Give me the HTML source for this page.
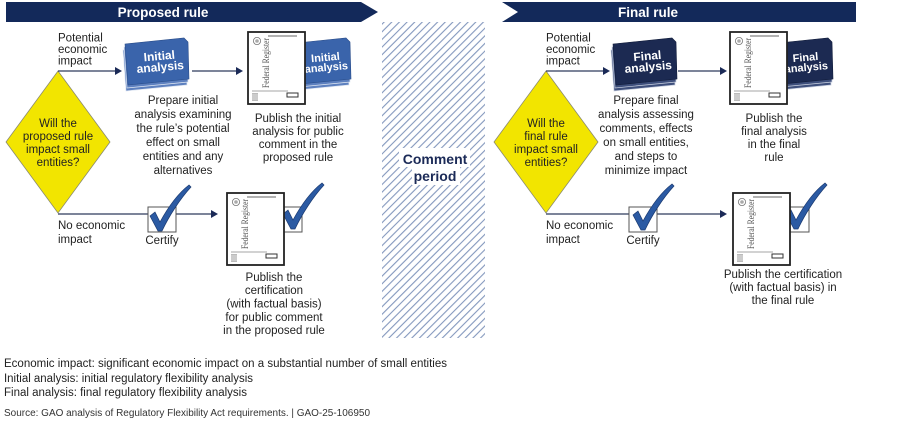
<!DOCTYPE html>
<html><head><meta charset="utf-8"><style>
html,body{margin:0;padding:0;background:#fff;}
svg{display:block;}
text{font-family:"Liberation Sans",Arial,sans-serif;}
.t{font-size:11.5px;fill:#222;}
.w{font-size:12px;font-weight:bold;fill:#fff;}
.w2{font-size:11px;font-weight:bold;fill:#fff;}
.fr{font-family:"Liberation Serif",serif;font-size:9px;fill:#555;}
</style></head><body>
<svg width="900" height="422" viewBox="0 0 900 422" xmlns="http://www.w3.org/2000/svg">
<defs>
<pattern id="h" width="5.4" height="6" patternUnits="userSpaceOnUse" patternTransform="rotate(45)">
<line x1="1" y1="0" x2="1" y2="6" stroke="#8397bd" stroke-width="1.1"/>
</pattern>
<path id="chk" d="M-10,-15 L-5,-19 L0,-9 C6,-20 16,-36 29,-46 L31,-44 C20,-32 9,-15 2,0 L-2,0 Z" fill="#2b5aa3" stroke="#1b3a70" stroke-width="0.7"/>
<g id="fed">
<rect x="0" y="0" width="57" height="72" fill="#fff" stroke="#222" stroke-width="1.8"/>
<circle cx="9" cy="9" r="3.6" fill="none" stroke="#777" stroke-width="0.8"/>
<circle cx="9" cy="9" r="1.8" fill="#aaa"/>
<line x1="20" y1="4" x2="49" y2="4" stroke="#666" stroke-width="1"/>
<text class="fr" transform="translate(21,56) rotate(-90)" textLength="50" lengthAdjust="spacingAndGlyphs">Federal Register</text>
<line x1="4" y1="59" x2="40" y2="59" stroke="#888" stroke-width="0.8"/>
<rect x="39" y="61" width="11" height="4" fill="none" stroke="#333" stroke-width="1"/>
<rect x="4" y="61" width="6" height="8" fill="#bbb"/>
<line x1="4" y1="63" x2="10" y2="63" stroke="#fff" stroke-width="0.5"/>
<line x1="4" y1="65" x2="10" y2="65" stroke="#fff" stroke-width="0.5"/>
<line x1="4" y1="67" x2="10" y2="67" stroke="#fff" stroke-width="0.5"/>
</g>
<polygon id="sheet" points="0,6 59,0 63,4 64,41 3,47"/>
</defs>

<!-- banners -->
<polygon points="6,2 361,2 378,12 361,22 6,22" fill="#13295a"/>
<text x="163" y="17" text-anchor="middle" style="font-size:13.5px;font-weight:bold;fill:#fff">Proposed rule</text>
<polygon points="502,2 856,2 856,22 502,22 518,12" fill="#13295a"/>
<text x="648" y="17" text-anchor="middle" style="font-size:13.5px;font-weight:bold;fill:#fff">Final rule</text>

<!-- comment period -->
<rect x="382" y="22" width="103" height="316" fill="url(#h)"/>
<rect x="399" y="148" width="71" height="19" fill="#fff"/>
<rect x="412" y="167" width="48" height="18" fill="#fff"/>
<text x="435" y="164" text-anchor="middle" style="font-size:14px;font-weight:bold;fill:#1b2a57">Comment</text>
<text x="435" y="181" text-anchor="middle" style="font-size:14px;font-weight:bold;fill:#1b2a57">period</text>

<!-- ============ LEFT ============ -->
<polygon points="58,71 110,142 58,213 6,142" fill="#f2e500" stroke="#8a8a70" stroke-width="0.8"/>
<text class="t" text-anchor="middle"><tspan x="58" y="127">Will the</tspan><tspan x="58" y="140">proposed rule</tspan><tspan x="58" y="153">impact small</tspan><tspan x="58" y="166">entities?</tspan></text>
<text class="t"><tspan x="58" y="41.5">Potential</tspan><tspan x="58" y="53">economic</tspan><tspan x="58" y="64.5">impact</tspan></text>

<line x1="58" y1="71" x2="116" y2="71" stroke="#2d3b5c" stroke-width="1.3"/>
<polygon points="115,67 122,71 115,75" fill="#1b2a57"/>
<!-- initial analysis stack -->
<g transform="translate(125,38)">
<use href="#sheet" transform="translate(-2,6)" fill="#5d80bf" stroke="#dfe6f2" stroke-width="0.7"/>
<use href="#sheet" transform="translate(-1,3)" fill="#5d80bf" stroke="#dfe6f2" stroke-width="0.7"/>
<use href="#sheet" fill="#3a64ab" stroke="#2a4d8a" stroke-width="0.6"/>
</g>
<g transform="rotate(-5 160 64)">
<text class="w" x="160" y="60" text-anchor="middle">Initial</text>
<text class="w" x="160" y="71" text-anchor="middle">analysis</text>
</g>
<line x1="192" y1="71" x2="237" y2="71" stroke="#2d3b5c" stroke-width="1.3"/>
<polygon points="236,67 243,71 236,75" fill="#1b2a57"/>
<!-- second stack behind -->
<g transform="translate(287,38)">
<use href="#sheet" transform="translate(-2,6)" fill="#5d80bf" stroke="#dfe6f2" stroke-width="0.7"/>
<use href="#sheet" transform="translate(-1,3)" fill="#5d80bf" stroke="#dfe6f2" stroke-width="0.7"/>
<use href="#sheet" fill="#3a64ab" stroke="#2a4d8a" stroke-width="0.6"/>
</g>
<g transform="rotate(-5 326 64)">
<text class="w2" x="326" y="61" text-anchor="middle">Initial</text>
<text class="w2" x="326" y="71" text-anchor="middle">analysis</text>
</g>
<use href="#fed" x="248" y="32"/>

<text class="t" text-anchor="middle"><tspan x="183" y="104">Prepare initial</tspan><tspan x="183" y="118">analysis examining</tspan><tspan x="183" y="132">the rule’s potential</tspan><tspan x="183" y="146">effect on small</tspan><tspan x="183" y="160">entities and any</tspan><tspan x="183" y="174">alternatives</tspan></text>
<text class="t" text-anchor="middle"><tspan x="298" y="122">Publish the initial</tspan><tspan x="298" y="135">analysis for public</tspan><tspan x="298" y="148">comment in the</tspan><tspan x="298" y="161">proposed rule</tspan></text>

<!-- bottom left -->
<line x1="58" y1="214" x2="212" y2="214" stroke="#2d3b5c" stroke-width="1.3"/>
<polygon points="211,210 218,214 211,218" fill="#1b2a57"/>
<rect x="148" y="207" width="28" height="25" fill="#fff" stroke="#555" stroke-width="1"/>
<use href="#chk" transform="translate(160,231)"/>
<text class="t"><tspan x="58" y="229">No economic</tspan><tspan x="58" y="243">impact</tspan></text>
<text class="t" x="162" y="244" text-anchor="middle">Certify</text>
<rect x="284" y="207" width="18" height="25" fill="#fff" stroke="#555" stroke-width="1"/>
<use href="#chk" transform="translate(293,229)"/>
<use href="#fed" x="227" y="193"/>
<text class="t" text-anchor="middle"><tspan x="274" y="281">Publish the</tspan><tspan x="274" y="294">certification</tspan><tspan x="274" y="307.5">(with factual basis)</tspan><tspan x="274" y="321">for public comment</tspan><tspan x="274" y="334">in the proposed rule</tspan></text>

<!-- ============ RIGHT ============ -->
<polygon points="546,71 598,142 546,213 494,142" fill="#f2e500" stroke="#8a8a70" stroke-width="0.8"/>
<text class="t" text-anchor="middle"><tspan x="546" y="127">Will the</tspan><tspan x="546" y="140">final rule</tspan><tspan x="546" y="153">impact small</tspan><tspan x="546" y="166">entities?</tspan></text>
<text class="t"><tspan x="546" y="41.5">Potential</tspan><tspan x="546" y="53">economic</tspan><tspan x="546" y="64.5">impact</tspan></text>

<line x1="546" y1="71" x2="604" y2="71" stroke="#2d3b5c" stroke-width="1.3"/>
<polygon points="603,67 610,71 603,75" fill="#1b2a57"/>
<g transform="translate(613,38)">
<use href="#sheet" transform="translate(-2,6)" fill="#3e4f7c" stroke="#c9d0e0" stroke-width="0.7"/>
<use href="#sheet" transform="translate(-1,3)" fill="#3e4f7c" stroke="#c9d0e0" stroke-width="0.7"/>
<use href="#sheet" fill="#1c2a52" stroke="#111c3a" stroke-width="0.6"/>
</g>
<g transform="rotate(-5 648 64)">
<text class="w" x="648" y="60" text-anchor="middle">Final</text>
<text class="w" x="648" y="71" text-anchor="middle">analysis</text>
</g>
<line x1="678" y1="71" x2="721" y2="71" stroke="#2d3b5c" stroke-width="1.3"/>
<polygon points="720,67 727,71 720,75" fill="#1b2a57"/>
<g transform="translate(769,38)">
<use href="#sheet" transform="translate(-2,6)" fill="#3e4f7c" stroke="#c9d0e0" stroke-width="0.7"/>
<use href="#sheet" transform="translate(-1,3)" fill="#3e4f7c" stroke="#c9d0e0" stroke-width="0.7"/>
<use href="#sheet" fill="#1c2a52" stroke="#111c3a" stroke-width="0.6"/>
</g>
<g transform="rotate(-5 806 64)">
<text class="w2" x="806" y="61" text-anchor="middle">Final</text>
<text class="w2" x="806" y="71" text-anchor="middle">analysis</text>
</g>
<use href="#fed" x="730" y="32"/>

<text class="t" text-anchor="middle"><tspan x="646" y="104">Prepare final</tspan><tspan x="646" y="118">analysis assessing</tspan><tspan x="646" y="132">comments, effects</tspan><tspan x="646" y="146">on small entities,</tspan><tspan x="646" y="160">and steps to</tspan><tspan x="646" y="174">minimize impact</tspan></text>
<text class="t" text-anchor="middle"><tspan x="774" y="122">Publish the</tspan><tspan x="774" y="135">final analysis</tspan><tspan x="774" y="148">in the final</tspan><tspan x="774" y="161">rule</tspan></text>

<!-- bottom right -->
<line x1="546" y1="214" x2="721" y2="214" stroke="#2d3b5c" stroke-width="1.3"/>
<polygon points="720,210 727,214 720,218" fill="#1b2a57"/>
<rect x="629" y="207" width="28" height="25" fill="#fff" stroke="#555" stroke-width="1"/>
<use href="#chk" transform="translate(643,230)"/>
<text class="t"><tspan x="546" y="229">No economic</tspan><tspan x="546" y="243">impact</tspan></text>
<text class="t" x="643" y="244" text-anchor="middle">Certify</text>
<rect x="790" y="207" width="19" height="25" fill="#fff" stroke="#555" stroke-width="1"/>
<use href="#chk" transform="translate(796,229)"/>
<use href="#fed" x="733" y="193"/>
<text class="t" text-anchor="middle"><tspan x="783" y="278">Publish the certification</tspan><tspan x="783" y="291">(with factual basis) in</tspan><tspan x="783" y="304">the final rule</tspan></text>

<!-- footnotes -->
<text class="t" x="4" y="367" textLength="443" lengthAdjust="spacingAndGlyphs">Economic impact: significant economic impact on a substantial number of small entities</text>
<text class="t" x="4" y="382" textLength="249" lengthAdjust="spacingAndGlyphs">Initial analysis: initial regulatory flexibility analysis</text>
<text class="t" x="4" y="396" textLength="243" lengthAdjust="spacingAndGlyphs">Final analysis: final regulatory flexibility analysis</text>
<text x="4" y="416" style="font-size:10px;fill:#333" textLength="366" lengthAdjust="spacingAndGlyphs">Source: GAO analysis of Regulatory Flexibility Act requirements.  |  GAO-25-106950</text>
</svg>
</body></html>
